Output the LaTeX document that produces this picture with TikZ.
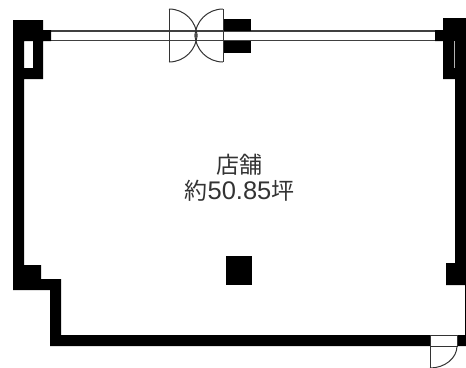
\documentclass[tikz,border=0pt]{standalone}
\usepackage{fontspec}
\usepackage{xcolor}
\newfontfamily\cjk{Noto Sans CJK JP}
\newfontfamily\latn{Liberation Sans}
\colorlet{LineGray}{black!75}
\tikzstyle{wallBlock}=[fill=black, draw=none, even odd rule]
\tikzstyle{thinLine}=[draw=LineGray, line width=1.2pt]
\tikzstyle{doorLine}=[draw=black!80, line width=1pt]
\tikzstyle{roomLabel}=[inner sep=0pt, text=black!80, font=\cjk\fontsize{23}{23}\selectfont]
\tikzstyle{columnBlock}=[fill=black, minimum width=26pt, minimum height=29pt, inner sep=0pt]
\newcommand{\digits}[1]{{\latn\fontsize{25.5}{25.5}\selectfont #1}}

\begin{document}
\begin{tikzpicture}[x=1pt, y=-1pt]

    \useasboundingbox (0, 0) rectangle (466, 367);
    \clip (0, 0) rectangle (466, 367);

    % Window
    \draw[thinLine] (45, 31) -- (440, 31);
    \draw[thinLine] (45, 40.7) -- (440, 40.7);

    % Walls
    \fill[wallBlock] (13, 20) -- (43, 20) -- (43, 30) -- (51, 30) -- (51, 41) -- (43, 41) -- (43, 79)
        -- (24, 79) -- (24, 265) -- (41, 265) -- (41, 279) -- (61, 279) -- (61, 335) -- (430, 335)
        -- (430, 346) -- (50, 346) -- (50, 290) -- (13, 290) -- cycle
        (24, 41) -- (33, 41) -- (33, 68) -- (24, 68) -- cycle;
    \fill[wallBlock] (443, 18) -- (466, 18) -- (466, 346) -- (457, 346) -- (457, 335) -- (465, 335)
        -- (465, 285) -- (446, 285) -- (446, 263) -- (455, 263) -- (455, 79) -- (443, 79)
        -- (443, 41) -- (435, 41) -- (435, 30) -- (443, 30) -- cycle;
    \draw[white!70!black, line width=1pt] (454, 41) -- (454, 68);

    % Front door
    \fill[wallBlock] (223, 19) rectangle (251, 31);
    \fill[wallBlock] (223, 41) rectangle (251, 53);
    \draw[doorLine] (169, 9) -- (169, 62);
    \draw[doorLine] (223, 9) -- (223, 62);
    \draw[doorLine] (169, 9) arc[start angle=-90, end angle=0, radius=28];
    \draw[doorLine] (169, 62) arc[start angle=90, end angle=0, radius=28];
    \draw[doorLine] (223, 9) arc[start angle=-90, end angle=-180, radius=28];
    \draw[doorLine] (223, 62) arc[start angle=90, end angle=180, radius=28];

    % Back door
    \draw[doorLine] (430, 335) rectangle (457, 346);
    \draw[doorLine] (430, 346) -- (430, 368);
    \draw[doorLine] (457, 346) arc[start angle=0, end angle=90, x radius=27, y radius=22];

    % Room
    \node[columnBlock] (column) at (239, 270.5) {};
    \node[roomLabel] (shopLabel) at (239.5, 164.5) {店舗};
    \node[roomLabel] (areaLabel) at (239.5, 191) {約\digits{50.85}坪};

\end{tikzpicture}
\end{document}
